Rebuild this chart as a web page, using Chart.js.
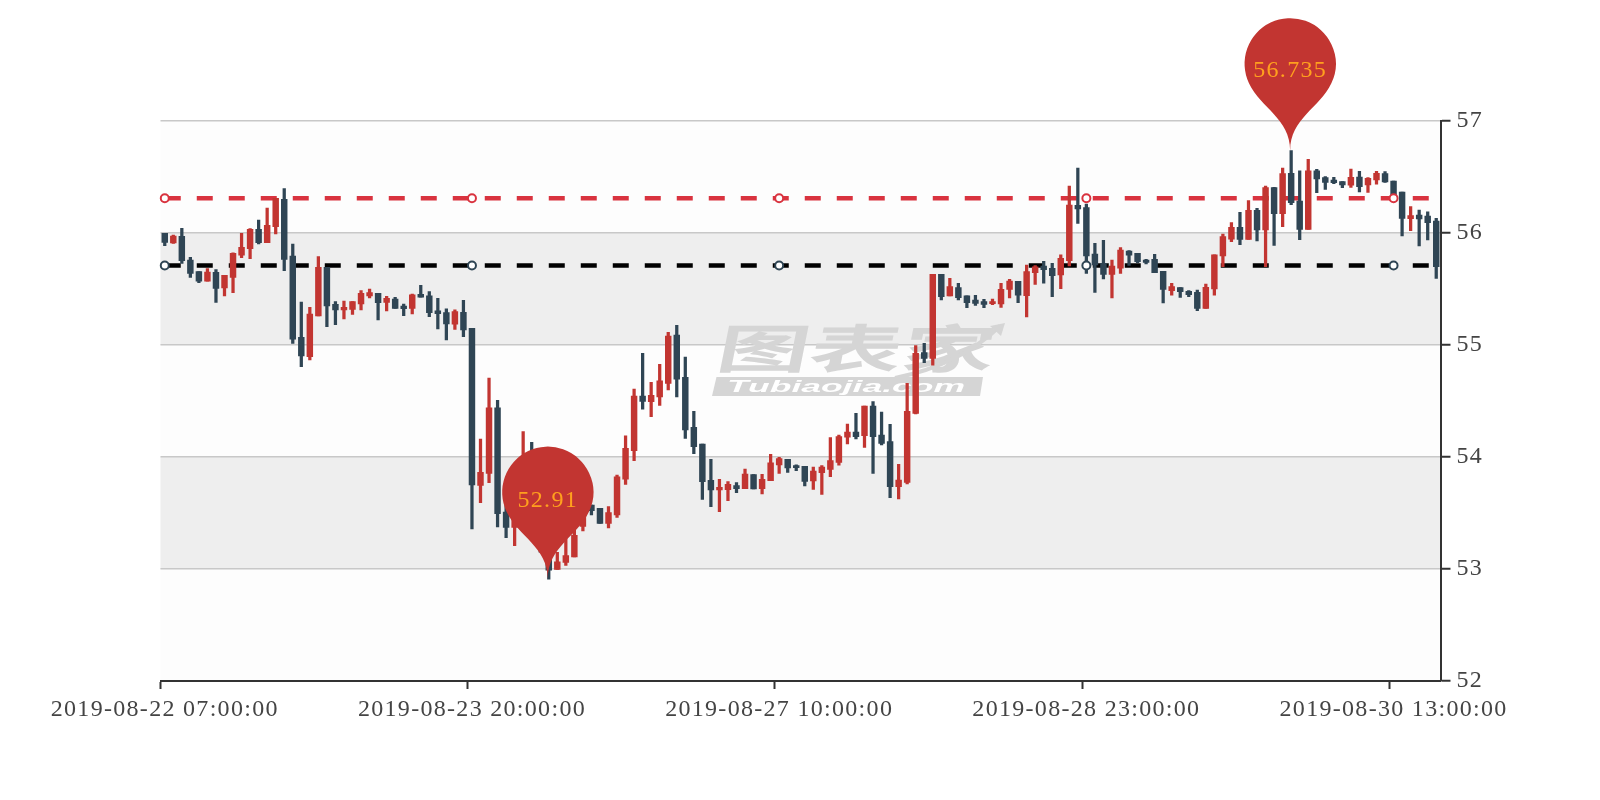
<!DOCTYPE html>
<html>
<head>
<meta charset="utf-8">
<title>K-line</title>
<style>
  html, body { margin: 0; padding: 0; background: #fff; }
  canvas { display: block; }
</style>
<script src="https://cdn.jsdelivr.net/npm/chart.js@4/dist/chart.umd.min.js"></script>
</head>
<body>
<canvas id="chart" width="1600" height="800"></canvas>
<script>
const tickLabels = ["2019-08-22 07:00:00", "2019-08-23 20:00:00", "2019-08-27 10:00:00", "2019-08-28 23:00:00", "2019-08-30 13:00:00"];
const yTicks = [52, 53, 54, 55, 56, 57];

const opens = [
  55.996, 55.911, 55.970, 55.759, 55.655, 55.571, 55.649, 55.509, 55.604, 55.801,
  55.860, 56.033, 55.914, 56.057, 56.301, 55.795, 55.068, 54.896, 55.259, 55.693,
  55.363, 55.313, 55.318, 55.366, 55.438, 55.461, 55.381, 55.411, 55.348, 55.327,
  55.452, 55.438, 55.304, 55.289, 55.185, 55.292, 55.149, 53.747, 53.854, 54.440,
  53.509, 53.372, 53.450, 53.620, 53.450, 53.200, 52.997, 53.059, 53.107, 53.380,
  53.571, 53.542, 53.408, 53.482, 53.801, 54.057, 54.545, 54.494, 54.536, 54.658,
  55.089, 54.711, 54.265, 54.116, 53.792, 53.705, 53.708, 53.744, 53.717, 53.842,
  53.717, 53.789, 53.929, 53.979, 53.923, 53.917, 53.786, 53.860, 53.890, 53.952,
  54.176, 54.223, 54.190, 54.455, 54.196, 54.137, 53.735, 53.774, 54.390, 54.932,
  54.881, 55.631, 55.438, 55.512, 55.438, 55.402, 55.387, 55.369, 55.366, 55.497,
  55.568, 55.440, 55.646, 55.705, 55.685, 55.625, 55.753, 56.247, 56.226, 55.812,
  55.729, 55.631, 55.687, 55.839, 55.818, 55.759, 55.765, 55.658, 55.485, 55.512,
  55.479, 55.470, 55.327, 55.500, 55.795, 55.946, 56.051, 55.943, 56.202, 56.027,
  56.405, 56.173, 56.533, 56.286, 56.033, 56.556, 56.494, 56.473, 56.458, 56.426,
  56.500, 56.429, 56.473, 56.530, 56.464, 56.366, 56.128, 56.161, 56.152, 56.107
];
const closes = [
  55.917, 55.973, 55.753, 55.640, 55.571, 55.652, 55.506, 55.622, 55.818, 55.872,
  56.033, 55.914, 56.068, 56.310, 55.765, 55.051, 54.902, 55.277, 55.693, 55.348,
  55.313, 55.336, 55.387, 55.461, 55.467, 55.378, 55.417, 55.327, 55.324, 55.449,
  55.426, 55.289, 55.280, 55.188, 55.298, 55.134, 53.750, 53.863, 54.440, 53.494,
  53.372, 53.497, 53.620, 53.450, 53.250, 52.990, 53.065, 53.119, 53.300, 53.500,
  53.521, 53.408, 53.503, 53.824, 54.077, 54.545, 54.497, 54.551, 54.679, 55.080,
  54.696, 54.241, 54.092, 53.780, 53.705, 53.729, 53.756, 53.717, 53.848, 53.714,
  53.801, 53.949, 53.985, 53.902, 53.905, 53.783, 53.875, 53.911, 53.967, 54.182,
  54.223, 54.182, 54.455, 54.182, 54.122, 53.735, 53.795, 54.408, 54.926, 54.881,
  55.631, 55.432, 55.521, 55.423, 55.378, 55.372, 55.363, 55.387, 55.497, 55.571,
  55.446, 55.655, 55.699, 55.673, 55.619, 55.774, 56.250, 56.214, 55.795, 55.714,
  55.631, 55.705, 55.848, 55.801, 55.744, 55.738, 55.646, 55.497, 55.521, 55.476,
  55.449, 55.327, 55.515, 55.806, 55.967, 56.051, 55.943, 56.202, 56.027, 56.405,
  56.173, 56.530, 56.271, 56.033, 56.554, 56.482, 56.452, 56.449, 56.429, 56.497,
  56.414, 56.488, 56.533, 56.455, 56.310, 56.131, 56.155, 56.125, 56.092, 55.699
];
const highs = [
  55.996, 55.982, 56.042, 55.783, 55.655, 55.682, 55.673, 55.622, 55.824, 55.997,
  56.039, 56.116, 56.223, 56.310, 56.396, 55.902, 55.384, 55.336, 55.789, 55.693,
  55.387, 55.393, 55.387, 55.485, 55.500, 55.461, 55.435, 55.426, 55.366, 55.455,
  55.533, 55.476, 55.417, 55.324, 55.313, 55.399, 55.149, 54.161, 54.705, 54.506,
  53.616, 53.646, 54.226, 54.131, 53.550, 53.300, 53.149, 53.274, 53.400, 53.550,
  53.571, 53.542, 53.557, 53.839, 54.188, 54.607, 54.926, 54.667, 54.827, 55.113,
  55.176, 54.893, 54.408, 54.116, 53.979, 53.801, 53.780, 53.771, 53.893, 53.842,
  53.845, 54.024, 53.997, 53.979, 53.929, 53.917, 53.911, 53.923, 54.173, 54.196,
  54.295, 54.390, 54.455, 54.494, 54.402, 54.292, 53.935, 54.658, 54.994, 55.015,
  55.631, 55.631, 55.595, 55.551, 55.438, 55.443, 55.408, 55.411, 55.551, 55.586,
  55.568, 55.714, 55.708, 55.747, 55.729, 55.804, 56.420, 56.580, 56.259, 55.908,
  55.934, 55.759, 55.869, 55.842, 55.818, 55.765, 55.810, 55.658, 55.551, 55.512,
  55.485, 55.491, 55.545, 55.806, 55.991, 56.092, 56.185, 56.289, 56.220, 56.420,
  56.408, 56.580, 56.735, 56.554, 56.658, 56.568, 56.503, 56.497, 56.458, 56.571,
  56.551, 56.494, 56.551, 56.548, 56.464, 56.366, 56.235, 56.205, 56.188, 56.131
];
const lows = [
  55.887, 55.908, 55.729, 55.604, 55.557, 55.571, 55.381, 55.438, 55.467, 55.780,
  55.771, 55.902, 55.914, 55.991, 55.664, 55.015, 54.807, 54.866, 55.259, 55.164,
  55.181, 55.232, 55.274, 55.313, 55.420, 55.223, 55.304, 55.327, 55.262, 55.277,
  55.426, 55.253, 55.143, 55.045, 55.140, 55.074, 53.357, 53.592, 53.771, 53.375,
  53.280, 53.208, 53.400, 53.300, 53.150, 52.910, 52.997, 53.033, 53.107, 53.339,
  53.482, 53.408, 53.366, 53.461, 53.756, 53.967, 54.426, 54.360, 54.461, 54.598,
  54.536, 54.167, 54.030, 53.622, 53.557, 53.512, 53.610, 53.682, 53.717, 53.714,
  53.670, 53.789, 53.854, 53.863, 53.878, 53.741, 53.711, 53.667, 53.824, 53.926,
  54.116, 54.161, 54.086, 53.854, 54.107, 53.637, 53.625, 53.759, 54.384, 54.842,
  54.821, 55.402, 55.438, 55.402, 55.333, 55.354, 55.333, 55.360, 55.336, 55.420,
  55.378, 55.250, 55.542, 55.551, 55.432, 55.503, 55.705, 56.086, 55.640, 55.470,
  55.589, 55.420, 55.640, 55.711, 55.735, 55.723, 55.646, 55.375, 55.446, 55.425,
  55.431, 55.306, 55.327, 55.446, 55.699, 55.923, 55.896, 55.943, 55.929, 55.699,
  55.890, 56.057, 56.253, 55.940, 56.033, 56.360, 56.390, 56.440, 56.405, 56.408,
  56.366, 56.363, 56.437, 56.452, 56.310, 55.973, 56.021, 55.884, 55.938, 55.595
];

const upperLine = 56.31;
const lowerLine = 55.71;
const maxPin = { index: 132, value: 56.735, text: "56.735", lift: 80 };
const minPin = { index: 45, value: 52.91, text: "52.91", lift: 78 };

const RED = "#c23531";
const DARK = "#2f4554";
const FONT = "'Liberation Serif', serif";

const categories = opens.map((_, i) => (i % 36 === 0 ? tickLabels[i / 36] : ""));
const candleColors = closes.map((c, i) => (c > opens[i] ? RED : DARK));

// echarts style pin, tip sits on the point
function drawPin(ctx, x, y, size) {
  const r = (size / 5 * 3) / 2;
  const dy = r * r / (size - r);
  const cy = y - size + r + dy;
  const angle = Math.asin(dy / r);
  const dx = Math.cos(angle) * r;
  const tanX = Math.sin(angle);
  const tanY = Math.cos(angle);
  const cpLen = r * 0.6;
  const cpLen2 = r * 0.7;
  ctx.beginPath();
  ctx.moveTo(x - dx, cy + dy);
  ctx.arc(x, cy, r, Math.PI - angle, Math.PI * 2 + angle);
  ctx.bezierCurveTo(x + dx - tanX * cpLen, cy + dy + tanY * cpLen, x, y - cpLen2, x, y);
  ctx.bezierCurveTo(x, y - cpLen2, x - dx + tanX * cpLen, cy + dy + tanY * cpLen, x - dx, cy + dy);
  ctx.closePath();
  ctx.fill();
}

const bandsPlugin = {
  id: "bands",
  beforeDraw(chart) {
    const ctx = chart.ctx;
    const y = chart.scales.y;
    const area = chart.chartArea;
    ctx.letterSpacing = "1.3px";
    ctx.save();
    for (let i = 0; i < yTicks.length - 1; i++) {
      const top = y.getPixelForValue(yTicks[i + 1]);
      const bottom = y.getPixelForValue(yTicks[i]);
      ctx.fillStyle = i % 2 === 0 ? "#fdfdfd" : "#eeeeee";
      ctx.fillRect(area.left, top, area.right - area.left, bottom - top);
    }
    ctx.restore();
  }
};

const watermarkPlugin = {
  id: "watermark",
  beforeDatasetsDraw(chart) {
    const ctx = chart.ctx;
    ctx.save();
    ctx.letterSpacing = "0px";
    ctx.fillStyle = "#d5d5d5";
    ctx.save();
    ctx.transform(1.78, 0, -0.2, 1, 714, 368);
    ctx.font = "700 52px 'Noto Sans CJK SC'";
    ctx.textBaseline = "alphabetic";
    ctx.fillText("图表家", 0, 0);
    ctx.restore();
    // swoosh over the last character
    ctx.strokeStyle = "#d5d5d5";
    ctx.lineWidth = 4;
    ctx.beginPath();
    ctx.moveTo(895, 378);
    ctx.quadraticCurveTo(960, 365, 1000, 326);
    ctx.stroke();
    ctx.beginPath();
    ctx.moveTo(1005, 323);
    ctx.lineTo(990, 326);
    ctx.lineTo(1001, 336);
    ctx.closePath();
    ctx.fill();
    // banner
    ctx.beginPath();
    ctx.moveTo(716.5, 377);
    ctx.lineTo(983, 377);
    ctx.lineTo(980, 396);
    ctx.lineTo(712, 396);
    ctx.closePath();
    ctx.fill();
    ctx.fillStyle = "#ffffff";
    ctx.font = "italic bold 16px 'Liberation Sans'";
    const text = "Tubiaojia.com";
    const sx = 238 / ctx.measureText(text).width;
    ctx.transform(sx, 0, 0, 1, 727, 392);
    ctx.fillText(text, 0, 0);
    ctx.restore();
  }
};

const pinPlugin = {
  id: "pins",
  afterDraw(chart) {
    const ctx = chart.ctx;
    const x = chart.scales.x;
    const y = chart.scales.y;
    ctx.save();
    [maxPin, minPin].forEach(pin => {
      const px = x.getPixelForValue(pin.index);
      const py = y.getPixelForValue(pin.value);
      ctx.fillStyle = RED;
      drawPin(ctx, px - 1, py, 152);
      ctx.fillStyle = "#ffa01e";
      ctx.font = "24px " + FONT;
      ctx.textAlign = "center";
      ctx.textBaseline = "middle";
      ctx.fillText(pin.text, px - 1, py - pin.lift);
    });
    ctx.restore();
  }
};

function lineDataset(value, color) {
  return {
    type: "line",
    data: opens.map(() => value),
    borderColor: color,
    borderWidth: 4.4,
    borderDash: [16, 16],
    pointRadius: 0,
    order: 4
  };
}

// hollow circles sit above the candles, the dashes below them
function markerDataset(value, color) {
  return {
    type: "line",
    data: opens.map((_, i) => (i % 36 === 0 ? value : null)),
    showLine: false,
    pointRadius: 4,
    pointBackgroundColor: "#ffffff",
    pointBorderColor: color,
    pointBorderWidth: 2,
    order: 0
  };
}

new Chart(document.getElementById("chart"), {
  data: {
    labels: categories,
    datasets: [
      markerDataset(upperLine, "#d9333f"),
      markerDataset(lowerLine, DARK),
      {
        type: "bar",
        data: opens.map((o, i) => [o, closes[i]]),
        backgroundColor: candleColors,
        barThickness: 5.8,
        grouped: false,
        order: 2
      },
      {
        type: "bar",
        data: lows.map((l, i) => [l, highs[i]]),
        backgroundColor: candleColors,
        barThickness: 2.6,
        grouped: false,
        order: 3
      },
      lineDataset(upperLine, "#d9333f"),
      lineDataset(lowerLine, "#000000")
    ]
  },
  options: {
    responsive: false,
    animation: false,
    layout: { padding: { left: 160.5, top: 121, right: 0, bottom: 0 } },
    plugins: { legend: { display: false }, tooltip: { enabled: false } },
    scales: {
      x: {
        type: "category",
        offset: true,
        afterFit: scale => { scale.height = 119; },
        border: { color: "#333333", width: 2 },
        grid: {
          offset: true,
          drawOnChartArea: false,
          tickLength: 8,
          tickWidth: 2,
          tickColor: ctx => (ctx.index % 36 === 0 ? "#333333" : "transparent")
        },
        ticks: {
          autoSkip: false,
          maxRotation: 0,
          minRotation: 0,
          padding: 6,
          color: "#444444",
          font: { family: FONT, size: 24 }
        }
      },
      y: {
        position: "right",
        min: yTicks[0],
        max: yTicks[yTicks.length - 1],
        afterFit: scale => { scale.width = 159.5; },
        border: { color: "#333333", width: 2 },
        grid: { color: "#c8c8c8", lineWidth: 1.5, tickColor: "#333333", tickWidth: 2, tickLength: 10 },
        ticks: {
          stepSize: 1,
          padding: 6,
          color: "#444444",
          font: { family: FONT, size: 24 }
        }
      }
    }
  },
  plugins: [bandsPlugin, watermarkPlugin, pinPlugin]
});
</script>
</body>
</html>
